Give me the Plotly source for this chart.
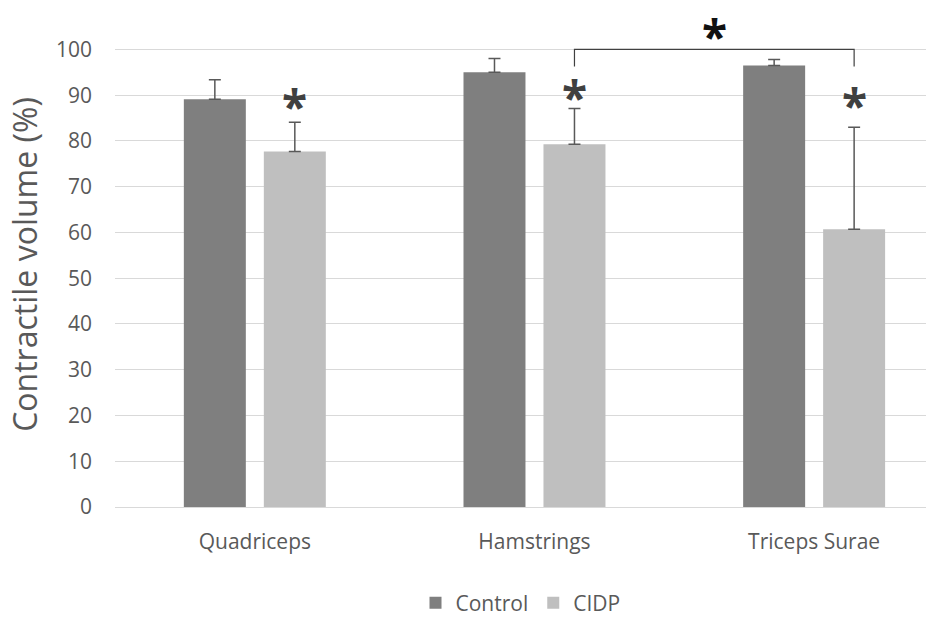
import plotly.graph_objects as go

categories = ["Quadriceps", "Hamstrings", "Triceps Surae"]
control_values = [89.1, 95.0, 96.5]
control_errors = [4.3, 3.0, 1.3]
cidp_values = [77.7, 79.3, 60.7]
cidp_errors = [6.4, 7.8, 22.3]
series_names = ["Control", "CIDP"]
sig_markers = ["*", "*", "*"]
y_ticks = list(range(0, 101, 10))

FONT = "Open Sans"
TXT = "#595959"

fig = go.Figure()
fig.add_trace(go.Bar(
    x=categories, y=control_values, name=series_names[0],
    marker=dict(color="#7f7f7f", line=dict(width=0)),
    error_y=dict(type="data", array=control_errors, arrayminus=[0] * 3, symmetric=False,
                 color="#595959", thickness=1.5, width=6),
))
fig.add_trace(go.Bar(
    x=categories, y=cidp_values, name=series_names[1],
    marker=dict(color="#bfbfbf", line=dict(width=0)),
    error_y=dict(type="data", array=cidp_errors, arrayminus=[0] * 3, symmetric=False,
                 color="#595959", thickness=1.5, width=6),
))

# offset of CIDP bar within its category (in category units)
off = 0.143

# asterisks above CIDP error bars
ast_y = [88.8, 90.6, 88.9]
for i, (m, yv) in enumerate(zip(sig_markers, ast_y)):
    fig.add_annotation(x=i + off, y=yv, text="<b>" + m + "</b>", showarrow=False,
                       xref="x", yref="y", font=dict(family=FONT, size=46, color="#404040"),
                       yshift=-5)

# bracket between Hamstrings CIDP and Triceps Surae CIDP
x0, x1 = 1 + off, 2 + off
fig.add_shape(type="path",
              path=f"M {x0},96.3 L {x0},100 L {x1},100 L {x1},96.3",
              xref="x", yref="y", line=dict(color="#404040", width=1.2))
fig.add_annotation(x=(x0 + x1) / 2, y=104.1, text="<b>*</b>", showarrow=False,
                   xref="x", yref="y", font=dict(family=FONT, size=46, color="#111111"),
                   yshift=-5)

fig.update_layout(
    width=939, height=619,
    paper_bgcolor="white", plot_bgcolor="white",
    margin=dict(l=115, r=13, t=22, b=112, autoexpand=False),
    barmode="group", bargap=0.428, bargroupgap=0.225,
    font=dict(family=FONT, color=TXT, size=21),
    showlegend=True,
    legend=dict(orientation="h", x=0.5, xanchor="center", y=-0.198, yanchor="middle",
                font=dict(family=FONT, size=21, color=TXT), itemwidth=30,
                traceorder="normal"),
    xaxis=dict(type="category", range=[-0.5, 2.4], showgrid=False, zeroline=False,
               showline=False, ticks="", ticklabelstandoff=20, automargin=False,
               tickfont=dict(family=FONT, size=21, color=TXT)),
    yaxis=dict(range=[0, 106], tickvals=y_ticks, showgrid=True, gridcolor="#d9d9d9",
               gridwidth=1.3, zeroline=True, zerolinecolor="#d9d9d9", zerolinewidth=1.3,
               showline=False, ticks="", ticklabelstandoff=22, automargin=True,
               tickfont=dict(family=FONT, size=21, color=TXT),
               title=dict(text="Contractile volume (%)", standoff=8,
                          font=dict(family=FONT, size=32, color=TXT))),
)

fig.write_html("out.html", config={"displayModeBar": False},
               post_script="document.body.style.margin='0';document.body.style.padding='0';")
